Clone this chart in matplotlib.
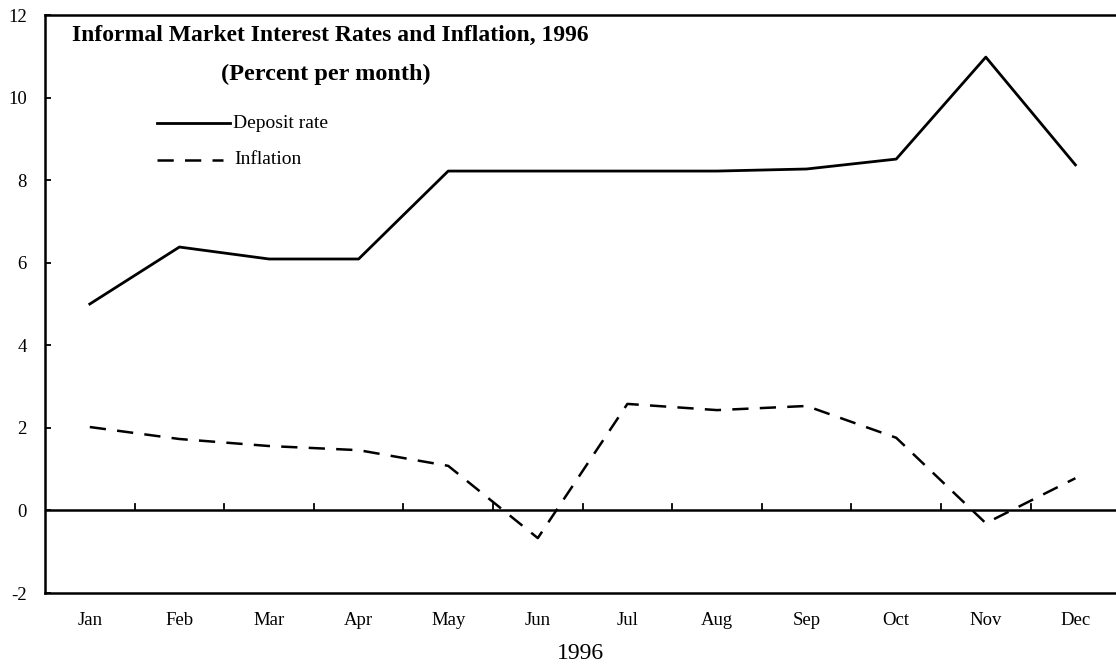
import matplotlib
matplotlib.use("Agg")
import matplotlib.pyplot as plt
import numpy as np

months = ["Jan", "Feb", "Mar", "Apr", "May", "Jun", "Jul", "Aug", "Sep", "Oct", "Nov", "Dec"]
deposit_rate = [5.0, 6.38, 6.09, 6.09, 8.22, 8.22, 8.22, 8.22, 8.27, 8.51, 10.98, 8.37]
inflation = [2.02, 1.73, 1.56, 1.46, 1.08, -0.67, 2.58, 2.43, 2.53, 1.76, -0.31, 0.78]
yticks = [-2, 0, 2, 4, 6, 8, 10, 12]

plt.rcParams['font.family'] = ['Liberation Serif', 'DejaVu Serif']

W, H = 1116, 668
fig = plt.figure(figsize=(W / 100, H / 100), dpi=100)
left, right, top, bottom = 45, 1116, 15, 593
ax = fig.add_axes([left / W, 1 - bottom / H, (right - left) / W, (bottom - top) / H])

x = np.arange(len(months))
DASH = (6.5, 4.5)
ax.plot(x, deposit_rate, color='black', lw=2.0)
ax.plot(x, inflation, color='black', lw=1.8, dashes=DASH)

step = 89.6
ax.set_xlim(-0.5, -0.5 + (right - left) / step)
ax.set_ylim(-2, 12)

for s in ['left', 'top', 'bottom']:
    ax.spines[s].set_linewidth(1.8)
ax.spines['right'].set_visible(False)

ax.axhline(0, color='black', lw=1.8)
for b in np.arange(0.5, 11, 1.0):
    ax.plot([b, b], [0, 0.15], color='black', lw=1.3)

ax.set_yticks(yticks)
ax.set_yticklabels([str(v) for v in yticks], fontsize=13.5)
ax.tick_params(axis='y', direction='in', length=4, width=1.3, pad=13)
ax.set_xticks(x)
ax.set_xticklabels(months, fontsize=13.5)
ax.tick_params(axis='x', length=0, pad=14)
ax.set_xlabel("1996", fontsize=17, labelpad=10)

fig.text(72 / W, 1 - 35 / H, "Informal Market Interest Rates and Inflation, 1996",
         fontsize=17, fontweight='bold', va='center', ha='left')
fig.text(326 / W, 1 - 74 / H, "(Percent per month)",
         fontsize=17.5, fontweight='bold', va='center', ha='center')

# legend drawn manually to match layout
fig.add_artist(plt.Line2D([157 / W, 230 / W], [1 - 123 / H, 1 - 123 / H], color='black', lw=2.0))
fig.text(233 / W, 1 - 123 / H, "Deposit rate", fontsize=14, va='center', ha='left')
fig.add_artist(plt.Line2D([157 / W, 223 / W], [1 - 160 / H, 1 - 160 / H], color='black', lw=1.8, dashes=DASH))
fig.text(234 / W, 1 - 160 / H, "Inflation", fontsize=14, va='center', ha='left')

fig.savefig("out.png", dpi=100)
